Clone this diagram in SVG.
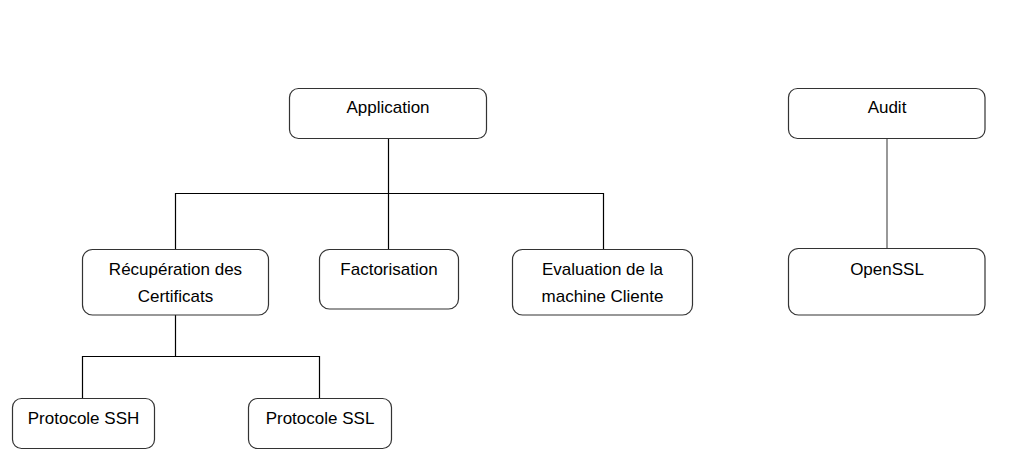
<svg xmlns="http://www.w3.org/2000/svg" width="1022" height="475" viewBox="0 0 1022 475">
<style>
.box{fill:#ffffff;stroke:#333333;stroke-width:1.2}
.lbl{font-family:"Liberation Sans",Arial,sans-serif;font-size:17px;fill:#000000;text-anchor:middle}
.con{fill:none;stroke:#000000;stroke-width:1.2}
.con2{fill:none;stroke:#7f7f7f;stroke-width:1.6}
</style>
<rect width="1022" height="475" fill="#ffffff"/>
<g id="connectors">
<path class="con" d="M388.5 138.5 V193.5 M175.5 249.5 V193.5 H603.5 V249.5 M388.5 193.5 V249.5"/>
<path class="con" d="M175.5 315 V356.5 M82.5 398.5 V356.5 H319.5 V398.5"/>
<path class="con2" d="M887 138.5 V248.5"/>
</g>
<g id="application">
<rect class="box" x="289.5" y="88.5" width="197" height="50" rx="9"/>
<text class="lbl" x="388" y="113">Application</text>
</g>
<g id="audit">
<rect class="box" x="788.5" y="88.5" width="196.5" height="50" rx="9"/>
<text class="lbl" x="887" y="113">Audit</text>
</g>
<g id="recuperation">
<rect class="box" x="82.5" y="249.5" width="186" height="65.5" rx="10"/>
<text class="lbl" x="175.5" y="275">Récupération des</text>
<text class="lbl" x="175.5" y="301.5">Certificats</text>
</g>
<g id="factorisation">
<rect class="box" x="319.5" y="249.5" width="139" height="59.5" rx="10"/>
<text class="lbl" x="389" y="275">Factorisation</text>
</g>
<g id="evaluation">
<rect class="box" x="512.5" y="249.5" width="180" height="65.5" rx="10"/>
<text class="lbl" x="602.5" y="275">Evaluation de la</text>
<text class="lbl" x="602.5" y="301.5">machine Cliente</text>
</g>
<g id="openssl">
<rect class="box" x="788.5" y="248.5" width="196.5" height="66.5" rx="10"/>
<text class="lbl" x="887" y="275">OpenSSL</text>
</g>
<g id="ssh">
<rect class="box" x="12.5" y="398.5" width="142" height="50" rx="9"/>
<text class="lbl" x="83.5" y="423.5">Protocole SSH</text>
</g>
<g id="ssl">
<rect class="box" x="248.5" y="398.5" width="143" height="50" rx="9"/>
<text class="lbl" x="320" y="423.5">Protocole SSL</text>
</g>
</svg>
